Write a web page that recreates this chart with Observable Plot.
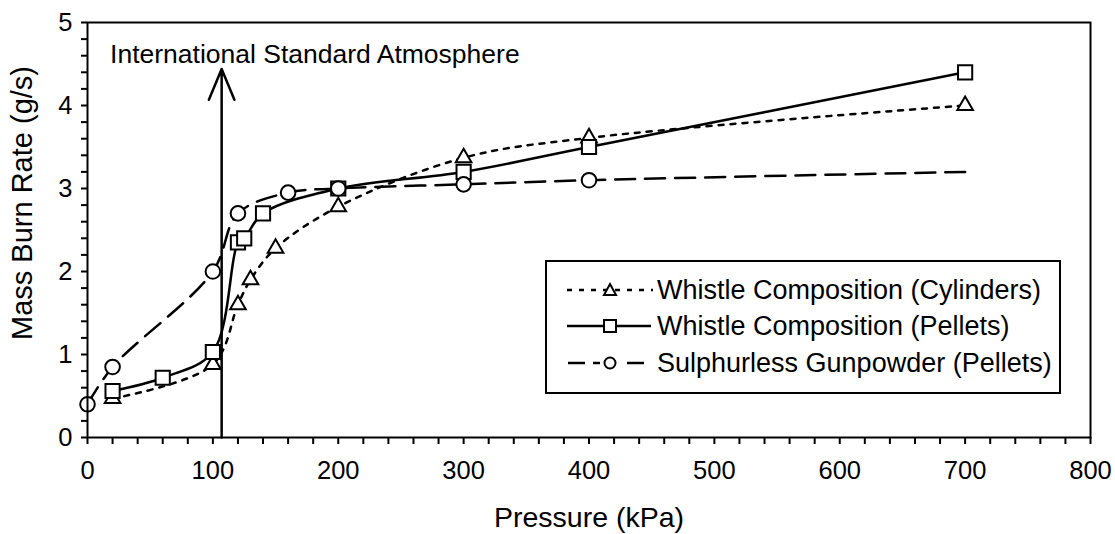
<!DOCTYPE html>
<html>
<head>
<meta charset="utf-8">
<script src="https://cdn.jsdelivr.net/npm/d3@7"></script>
<script src="https://cdn.jsdelivr.net/npm/@observablehq/plot@0.6"></script>
<style>
  html, body { margin: 0; padding: 0; background: #fff; }
  #wrap { position: relative; width: 1115px; height: 534px; overflow: hidden; font-family: "Liberation Sans", Arial, sans-serif; }
  #legend { position: absolute; left: 545px; top: 260px; width: 516px; height: 134px; border: 2px solid #000; background: #fff; box-sizing: border-box; }
  .row { position: absolute; left: 0; height: 36px; display: flex; align-items: center; }
  .row svg { margin-left: 8px; }
  .row span { font-size: 27px; color: #000; margin-left: 2px; white-space: nowrap; }
  #ytitle { position: absolute; left: 22px; top: 203px; transform: translate(-50%, -50%) rotate(-90deg); font-size: 29px; white-space: nowrap; color: #000; line-height: 1; }
</style>
</head>
<body>
<div id="wrap"></div>
<script>
// ---- Data ----
const seriesNames = ["Whistle Composition (Cylinders)", "Whistle Composition (Pellets)", "Sulphurless Gunpowder (Pellets)"];

const pressureCyl = [20, 100, 120, 130, 150, 200, 300, 400, 700];
const rateCyl     = [0.47, 0.88, 1.6, 1.9, 2.28, 2.78, 3.37, 3.61, 4.0];

const pressurePel = [20, 60, 100, 120, 125, 140, 200, 300, 400, 700];
const ratePel     = [0.56, 0.72, 1.03, 2.35, 2.4, 2.7, 3.0, 3.2, 3.5, 4.4];

const pressureGun = [0, 20, 100, 120, 160, 200, 300, 400, 700];
const rateGun     = [0.4, 0.85, 2.0, 2.7, 2.95, 3.0, 3.05, 3.1, 3.2];
const gunMarkerMaxPressure = 400; // no marker on the last gunpowder point

const xTickValues = d3.range(0, 801, 20);
const xTickLabels = [0, 100, 200, 300, 400, 500, 600, 700, 800];
const yTickValues = d3.range(0, 26).map(i => i / 5);
const yTickLabels = [0, 1, 2, 3, 4, 5];

const atmospherePressure = 107;
const arrowTop = 4.44;
const annotationText = "International Standard Atmosphere";
const annotationX = 18;
const annotationY = 4.61;

const xTitle = "Pressure (kPa)";
const yTitle = "Mass Burn Rate (g/s)";

// ---- Build tables ----
const cyl = pressureCyl.map((p, i) => ({p, r: rateCyl[i]}));
const pel = pressurePel.map((p, i) => ({p, r: ratePel[i]}));
const gun = pressureGun.map((p, i) => ({p, r: rateGun[i]}));

const dotStyle = {x: "p", y: "r", fill: "white", stroke: "black", strokeWidth: 2};

const chart = Plot.plot({
  width: 1115,
  height: 534,
  marginLeft: 87,
  marginRight: 25,
  marginTop: 22,
  marginBottom: 97,
  style: {fontFamily: "'Liberation Sans', Arial, sans-serif", fontSize: "25px", color: "black", background: "white", overflow: "visible"},
  x: {domain: [0, 800]},
  y: {domain: [0, 5]},
  marks: [
    Plot.axisX({ticks: xTickValues, tickFormat: d => xTickLabels.includes(d) ? String(d) : "", tickSize: 7, tickPadding: 16, strokeWidth: 2, label: null, fontSize: 25.5}),
    Plot.axisY({ticks: yTickValues, tickFormat: d => yTickLabels.includes(Math.round(d * 1000) / 1000) ? String(Math.round(d)) : "", tickSize: 6, tickPadding: 9, strokeWidth: 2, label: null, fontSize: 25.5}),
    // Cylinders
    Plot.line(cyl, {x: "p", y: "r", curve: "catmull-rom", stroke: "black", strokeWidth: 2.5, strokeDasharray: "5,7"}),
    Plot.dot(cyl, {...dotStyle, symbol: "triangle", r: 5.8}),
    // Pellets
    Plot.line(pel, {x: "p", y: "r", curve: "catmull-rom", stroke: "black", strokeWidth: 2.5}),
    Plot.dot(pel, {...dotStyle, symbol: "square", r: 8}),
    // Gunpowder
    Plot.line(gun, {x: "p", y: "r", curve: "catmull-rom", stroke: "black", strokeWidth: 2.5, strokeDasharray: "20,10"}),
    Plot.dot(gun.filter(d => d.p <= gunMarkerMaxPressure), {...dotStyle, symbol: "circle", r: 7.3}),
    // Atmosphere arrow
    Plot.arrow([{x: atmospherePressure, y1: 0, y2: arrowTop}], {x: "x", y1: "y1", y2: "y2", stroke: "black", strokeWidth: 2.5, headLength: 20, headAngle: 45}),
    Plot.text([annotationText], {x: annotationX, y: annotationY, text: d => d, textAnchor: "start", fontSize: 26.5, lineAnchor: "middle"}),
    // X axis title
    Plot.text([xTitle], {frameAnchor: "bottom", text: d => d, dy: 80, fontSize: 28.5, lineAnchor: "middle"}),
    Plot.frame({stroke: "black", strokeWidth: 2})
  ]
});

const wrap = document.getElementById("wrap");
wrap.appendChild(chart);

// ---- Y axis title ----
const yt = document.createElement("div");
yt.id = "ytitle";
yt.textContent = yTitle;
wrap.appendChild(yt);

// ---- Legend ----
const legend = document.createElement("div");
legend.id = "legend";
const rowsTop = [10, 46, 83];
const samples = [
  `<svg width="100" height="20"><line x1="12" y1="10" x2="98" y2="10" stroke="black" stroke-width="2.5" stroke-dasharray="5,7"/><path d="M55,4 L61,15 L49,15 Z" fill="white" stroke="black" stroke-width="2"/></svg>`,
  `<svg width="100" height="20"><line x1="12" y1="10" x2="96" y2="10" stroke="black" stroke-width="2.5"/><rect x="49" y="4" width="12" height="12" fill="white" stroke="black" stroke-width="2"/></svg>`,
  `<svg width="100" height="20"><line x1="13" y1="10" x2="30" y2="10" stroke="black" stroke-width="2.5"/><line x1="38" y1="10" x2="45" y2="10" stroke="black" stroke-width="2.5"/><circle cx="55" cy="10" r="5.5" fill="white" stroke="black" stroke-width="2"/><line x1="72" y1="10" x2="89" y2="10" stroke="black" stroke-width="2.5"/></svg>`
];
seriesNames.forEach((name, i) => {
  const row = document.createElement("div");
  row.className = "row";
  row.style.top = rowsTop[i] + "px";
  row.innerHTML = samples[i] + `<span>${name}</span>`;
  legend.appendChild(row);
});
wrap.appendChild(legend);
</script>
</body>
</html>
